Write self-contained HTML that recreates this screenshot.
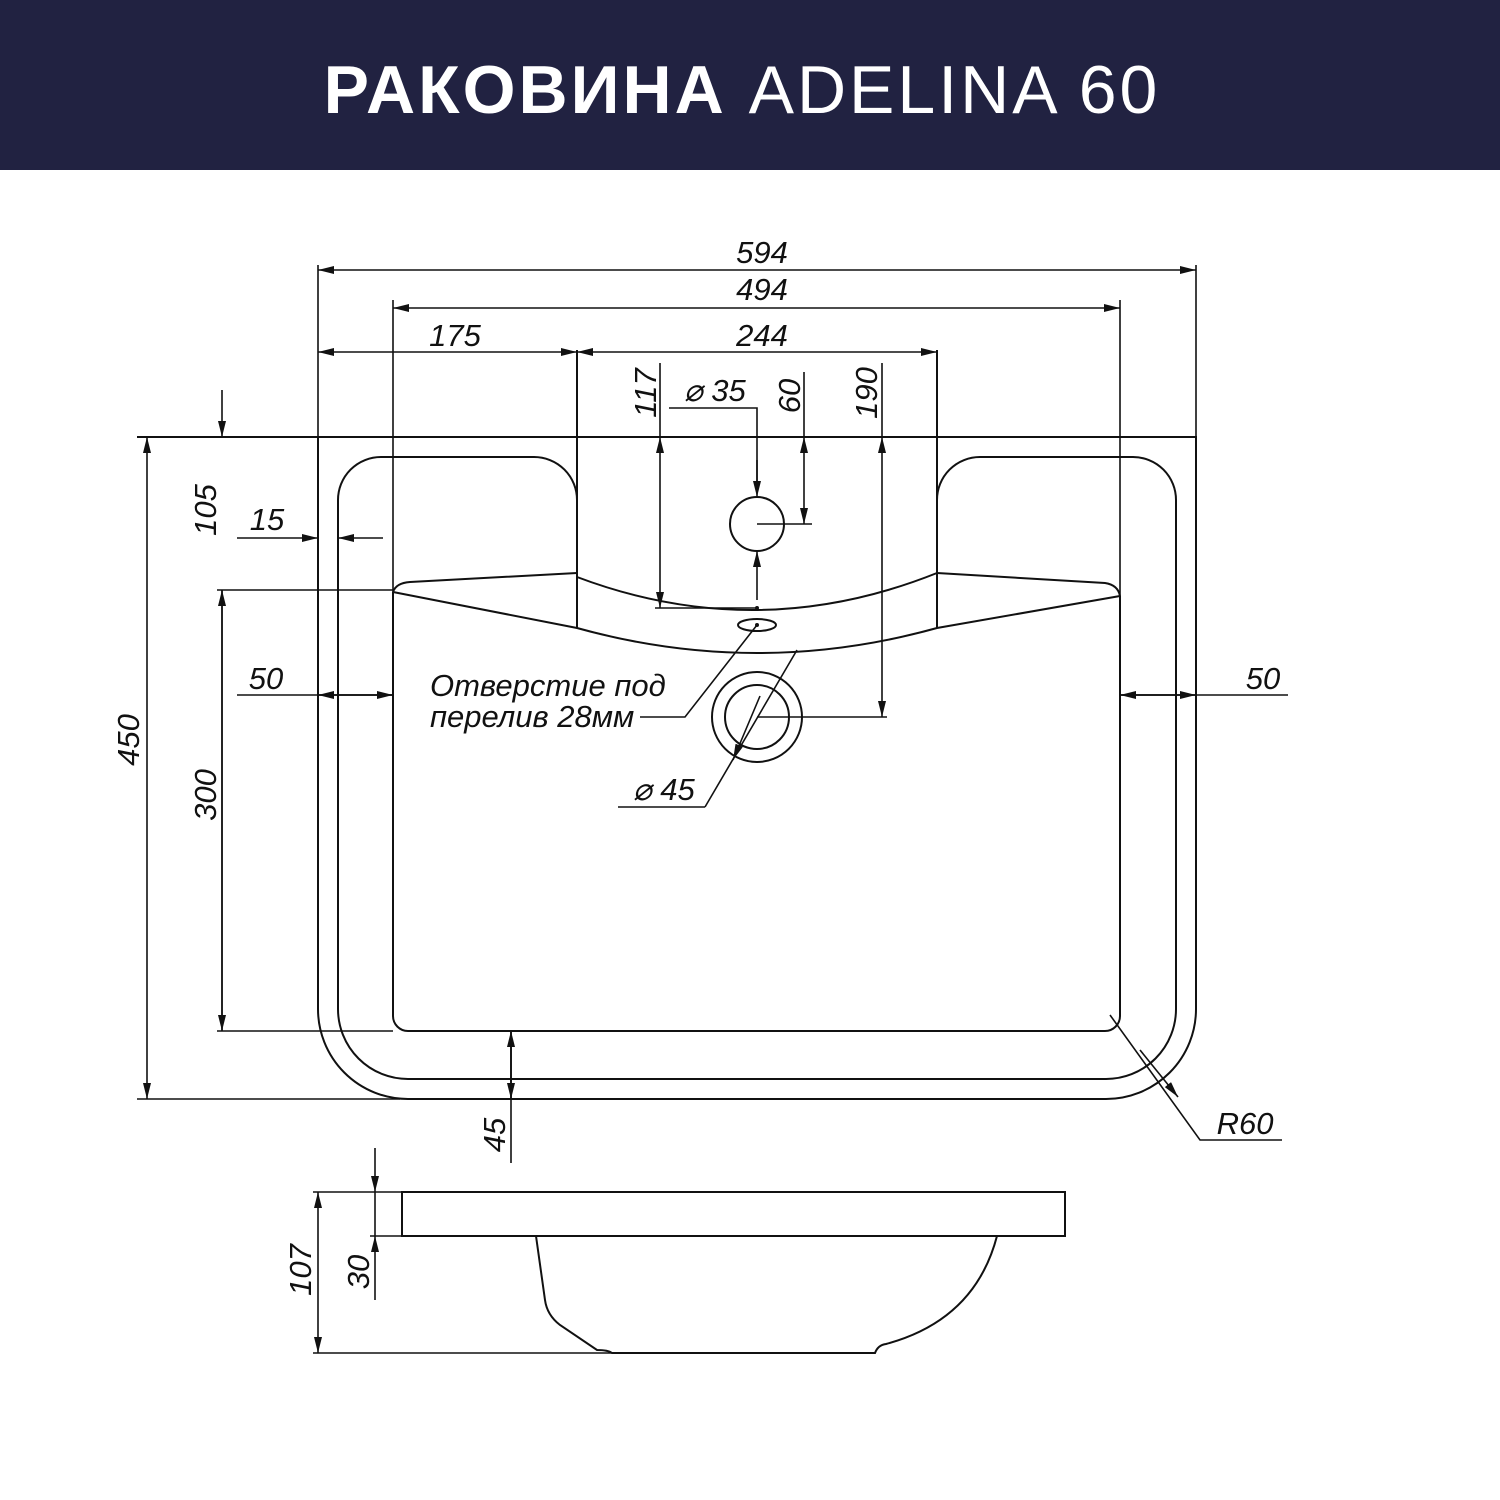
<!DOCTYPE html>
<html><head><meta charset="utf-8"><style>
html,body{margin:0;padding:0;background:#fff}
svg{display:block}
text{font-family:"Liberation Sans",sans-serif;font-style:italic;font-size:31px;fill:#111}
</style></head><body>
<svg width="1500" height="1500" viewBox="0 0 1500 1500" xmlns="http://www.w3.org/2000/svg">
<defs>
<marker id="a" viewBox="0 0 16 8" refX="16" refY="4" markerWidth="16" markerHeight="8" markerUnits="userSpaceOnUse" orient="auto-start-reverse">
<path d="M0,0 L16,4 L0,8 Z" fill="#111"/></marker>
</defs>
<rect x="0" y="0" width="1500" height="170" fill="#212241"/>
<text x="742" y="113" text-anchor="middle" style="font-style:normal;font-size:68px;fill:#fff;letter-spacing:3px"><tspan font-weight="bold">РАКОВИНА</tspan> ADELINA 60</text>

<g fill="none" stroke="#111" stroke-width="2">
<path d="M137,437 H1196 V1009 A90,90 0 0 1 1106,1099 H408 A90,90 0 0 1 318,1009 V437"/>
<path d="M577,573 V500 A43,43 0 0 0 534,457 H381 A43,43 0 0 0 338,500 V1009 A70,70 0 0 0 408,1079 H1106 A70,70 0 0 0 1176,1009 V500 A43,43 0 0 0 1133,457 H980 A43,43 0 0 0 937,500 V573"/>
<path d="M393,592 V1016 A15,15 0 0 0 408,1031 H1105 A15,15 0 0 0 1120,1016 V596"/>
<path d="M393,592 Q396,583 410,582 L577,573"/>
<path d="M577,577 Q757,645 937,573"/>
<path d="M937,573 L1105,583 Q1118,585 1120,596"/>
<path d="M393,592 L577,628 Q757,678 937,628 L1120,596"/>
<path d="M577,350 V628 M937,350 V628"/>
<circle cx="757" cy="524" r="27"/>
<ellipse cx="757" cy="625" rx="19" ry="6"/>
<circle cx="757" cy="717" r="45"/>
<circle cx="757" cy="717" r="32"/>
</g>

<g fill="none" stroke="#111" stroke-width="1.6">
<path d="M318,265 V437 M1196,265 V437 M393,300 V592 M1120,300 V596 M318,345 V437"/>
<path d="M660,363 V437 M804,372 V437 M882,363 V437"/>
<path d="M669,408 H757 V490 M655,608 H757 M757,524 H812 M757,717 H887"/>
<path d="M217,590 H393 M217,1031 H393 M137,1099 H400 M511,1031 V1163"/>
<path d="M318,270 H1196" marker-start="url(#a)" marker-end="url(#a)"/>
<path d="M393,308 H1120" marker-start="url(#a)" marker-end="url(#a)"/>
<path d="M318,352 H577" marker-start="url(#a)" marker-end="url(#a)"/>
<path d="M577,352 H937" marker-start="url(#a)" marker-end="url(#a)"/>
<path d="M660,437 V608" marker-start="url(#a)" marker-end="url(#a)"/>
<path d="M757,460 V497" marker-end="url(#a)"/>
<path d="M757,600 V551" marker-end="url(#a)"/>
<path d="M804,437 V524" marker-start="url(#a)" marker-end="url(#a)"/>
<path d="M882,437 V717" marker-start="url(#a)" marker-end="url(#a)"/>
<path d="M237,538 H318" marker-end="url(#a)"/>
<path d="M383,538 H338" marker-end="url(#a)"/>
<path d="M222,390 V437" marker-end="url(#a)"/>
<path d="M222,1031 V590" marker-end="url(#a)"/>
<path d="M222,590 V1031" marker-end="url(#a)"/>
<path d="M147,437 V1099" marker-start="url(#a)" marker-end="url(#a)"/>
<path d="M237,695 H393 M318,695 H393"/>
<path d="M393,695 H318" marker-end="url(#a)"/>
<path d="M318,695 H393" marker-end="url(#a)"/>
<path d="M1120,695 H1288"/>
<path d="M1196,695 H1120" marker-end="url(#a)"/>
<path d="M1120,695 H1196" marker-end="url(#a)"/>
<path d="M511,1099 V1031" marker-end="url(#a)"/>
<path d="M511,1031 V1099" marker-end="url(#a)"/>
<path d="M757,625 L685,717 H640"/>
<path d="M705,807 H618"/>
<path d="M797,650 L705,807"/>
<path d="M760,696 L733,760" marker-end="url(#a)"/>
<path d="M1110,1015 L1200,1140 H1282"/>
<path d="M1140,1050 L1178,1097" marker-end="url(#a)"/>
</g>
<circle cx="757" cy="608" r="2" fill="#111"/>
<circle cx="757" cy="625" r="2" fill="#111"/>

<g fill="none" stroke="#111" stroke-width="2">
<rect x="402" y="1192" width="663" height="44"/>
<path d="M536,1236 L545,1300 Q547,1315 560,1325 L597,1350 Q608,1350 612,1353 H875 Q878,1345 886,1344 Q975,1320 997,1236"/>
</g>
<g fill="none" stroke="#111" stroke-width="1.6">
<path d="M313,1192 H402 M313,1353 H612 M370,1236 H402"/>
<path d="M318,1192 V1353" marker-start="url(#a)" marker-end="url(#a)"/>
<path d="M375,1148 V1192" marker-end="url(#a)"/>
<path d="M375,1300 V1236" marker-end="url(#a)"/>
<path d="M375,1192 V1236"/>
</g>

<g>
<text x="762" y="263" text-anchor="middle">594</text>
<text x="762" y="300" text-anchor="middle">494</text>
<text x="455" y="346" text-anchor="middle">175</text>
<text x="762" y="346" text-anchor="middle">244</text>
<text x="684" y="401">⌀ 35</text>
<text transform="translate(656,393) rotate(-90)" text-anchor="middle">117</text>
<text transform="translate(800,396) rotate(-90)" text-anchor="middle">60</text>
<text transform="translate(877,393) rotate(-90)" text-anchor="middle">190</text>
<text transform="translate(216,510) rotate(-90)" text-anchor="middle">105</text>
<text transform="translate(216,795) rotate(-90)" text-anchor="middle">300</text>
<text transform="translate(139,740) rotate(-90)" text-anchor="middle">450</text>
<text transform="translate(505,1135) rotate(-90)" text-anchor="middle">45</text>
<text transform="translate(311,1270) rotate(-90)" text-anchor="middle">107</text>
<text transform="translate(369,1272) rotate(-90)" text-anchor="middle">30</text>
<text x="267" y="530" text-anchor="middle">15</text>
<text x="266" y="689" text-anchor="middle">50</text>
<text x="1263" y="689" text-anchor="middle">50</text>
<text x="633" y="800">⌀ 45</text>
<text x="1245" y="1134" text-anchor="middle">R60</text>
<text x="430" y="696">Отверстие под</text>
<text x="430" y="727">перелив 28мм</text>
</g>
</svg>
</body></html>
